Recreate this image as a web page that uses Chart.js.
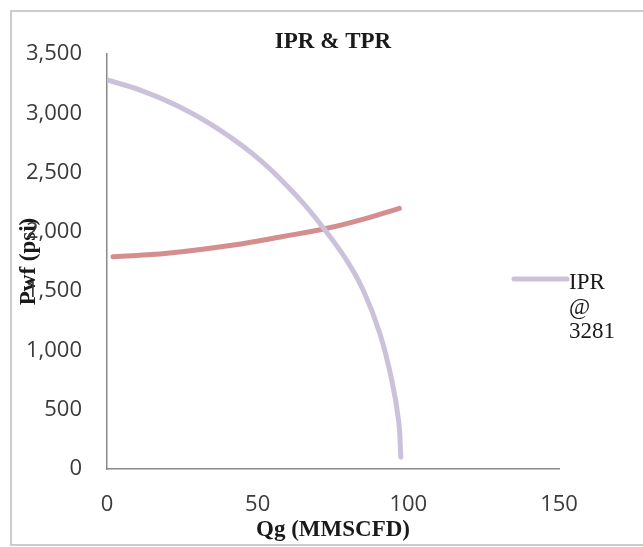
<!DOCTYPE html>
<html>
<head>
<meta charset="utf-8">
<script src="https://cdn.jsdelivr.net/npm/chart.js@4.4.1/dist/chart.umd.min.js"></script>
<style>
html,body{margin:0;padding:0;background:#ffffff;}
#wrap{width:643px;height:547px;position:relative;}
</style>
</head>
<body>
<div id="wrap"><canvas id="c" width="643" height="547"></canvas></div>
<script>
// ---- data ----
const chartTitle = 'IPR & TPR';
const xAxisTitle = 'Qg (MMSCFD)';
const yAxisTitle = 'Pwf (psi)';
const xTicks = [0, 50, 100, 150];
const yTicks = [0, 500, 1000, 1500, 2000, 2500, 3000, 3500];
const yTickLabels = ['0', '500', '1,000', '1,500', '2,000', '2,500', '3,000', '3,500'];
const iprLegend = ['IPR', '@', '3281'];
const tprLabel = 'TPR';

const iprQg  = [0, 11, 24, 37.5, 51.5, 64.2, 71.5, 79.5, 85, 90.5, 94.5, 96.8, 97.5];
const iprPwf = [3281, 3196, 3055, 2858, 2591, 2268, 2043, 1762, 1509, 1147, 750, 400, 100];

const tprQg  = [2, 20, 42, 58, 73, 86, 97];
const tprPwf = [1790, 1819, 1889, 1959, 2030, 2114, 2198];

// ---- chart ----
const toPoints = (xs, ys) => xs.map((x, i) => ({x: x, y: ys[i]}));

const framePlugin = {
  id: 'frameAndLegend',
  beforeDraw(chart) {
    const ctx = chart.ctx;
    ctx.save();
    ctx.fillStyle = '#ffffff';
    ctx.fillRect(0, 0, chart.width, chart.height);
    ctx.strokeStyle = '#cccccc';
    ctx.lineWidth = 2;
    ctx.beginPath();
    ctx.moveTo(chart.width + 5, 11);
    ctx.lineTo(11, 11);
    ctx.lineTo(11, 545);
    ctx.lineTo(chart.width + 5, 545);
    ctx.stroke();
    ctx.restore();
  },
  afterDraw(chart) {
    const ctx = chart.ctx;
    const ds = chart.data.datasets[0];
    const x0 = chart.chartArea.right - 45;
    ctx.save();
    ctx.strokeStyle = ds.borderColor;
    ctx.lineWidth = 5;
    ctx.lineCap = 'round';
    ctx.beginPath();
    ctx.moveTo(x0, 279);
    ctx.lineTo(x0 + 53, 279);
    ctx.stroke();
    ctx.fillStyle = '#1a1a1a';
    ctx.font = '23px "Liberation Serif"';
    ctx.textBaseline = 'middle';
    ctx.textAlign = 'left';
    iprLegend.forEach((t, i) => ctx.fillText(t, x0 + 55, 283 + i * 24.5));
    ctx.restore();
  }
};

new Chart(document.getElementById('c'), {
  type: 'scatter',
  data: {
    datasets: [
      {
        label: iprLegend.join(' '),
        data: toPoints(iprQg, iprPwf),
        showLine: true,
        borderColor: '#cbc1db',
        backgroundColor: '#cbc1db',
        borderWidth: 5,
        borderCapStyle: 'round',
        borderJoinStyle: 'round',
        pointRadius: 0,
        tension: 0.4
      },
      {
        label: tprLabel,
        data: toPoints(tprQg, tprPwf),
        showLine: true,
        borderColor: '#d48e8e',
        backgroundColor: '#d48e8e',
        borderWidth: 5,
        borderCapStyle: 'round',
        borderJoinStyle: 'round',
        pointRadius: 0,
        tension: 0.4
      }
    ]
  },
  options: {
    responsive: false,
    animation: false,
    layout: {padding: {left: 0, right: 84, top: 0, bottom: 0}},
    plugins: {
      legend: {display: false},
      tooltip: {enabled: false},
      title: {
        display: true,
        text: chartTitle,
        fullSize: false,
        color: '#1a1a1a',
        font: {family: '"Liberation Serif"', size: 23, weight: 'bold', lineHeight: 1},
        padding: {top: 30.5, bottom: 0.5}
      }
    },
    scales: {
      x: {
        type: 'linear',
        position: 'bottom',
        min: 0,
        max: 150,
        afterBuildTicks: s => { s.ticks = xTicks.map(v => ({value: v})); },
        afterFit: s => { s.height = 78; },
        grid: {display: false, drawTicks: false},
        border: {display: true, color: '#8a8a8a', width: 1.5},
        ticks: {
          color: '#3a3a3a',
          font: {family: '"Open Sans"', size: 22},
          padding: 23,
          maxRotation: 0
        },
        title: {
          display: true,
          text: xAxisTitle,
          color: '#1a1a1a',
          font: {family: '"Liberation Serif"', size: 23, weight: 'bold'},
          padding: {top: 0, bottom: 3}
        }
      },
      y: {
        type: 'linear',
        position: 'left',
        min: 0,
        max: 3500,
        afterBuildTicks: s => { s.ticks = yTicks.map(v => ({value: v})); },
        afterFit: s => { s.width = 107; },
        grid: {display: false, drawTicks: false},
        border: {display: true, color: '#8a8a8a', width: 1.5},
        ticks: {
          color: '#3a3a3a',
          font: {family: '"Open Sans"', size: 22},
          padding: 25,
          callback: v => yTickLabels[yTicks.indexOf(v)]
        },
        title: {
          display: true,
          text: yAxisTitle,
          color: '#1a1a1a',
          font: {family: '"Liberation Serif"', size: 23, weight: 'bold'},
          padding: {top: 15, bottom: 0}
        }
      }
    }
  },
  plugins: [framePlugin]
});
</script>
</body>
</html>
